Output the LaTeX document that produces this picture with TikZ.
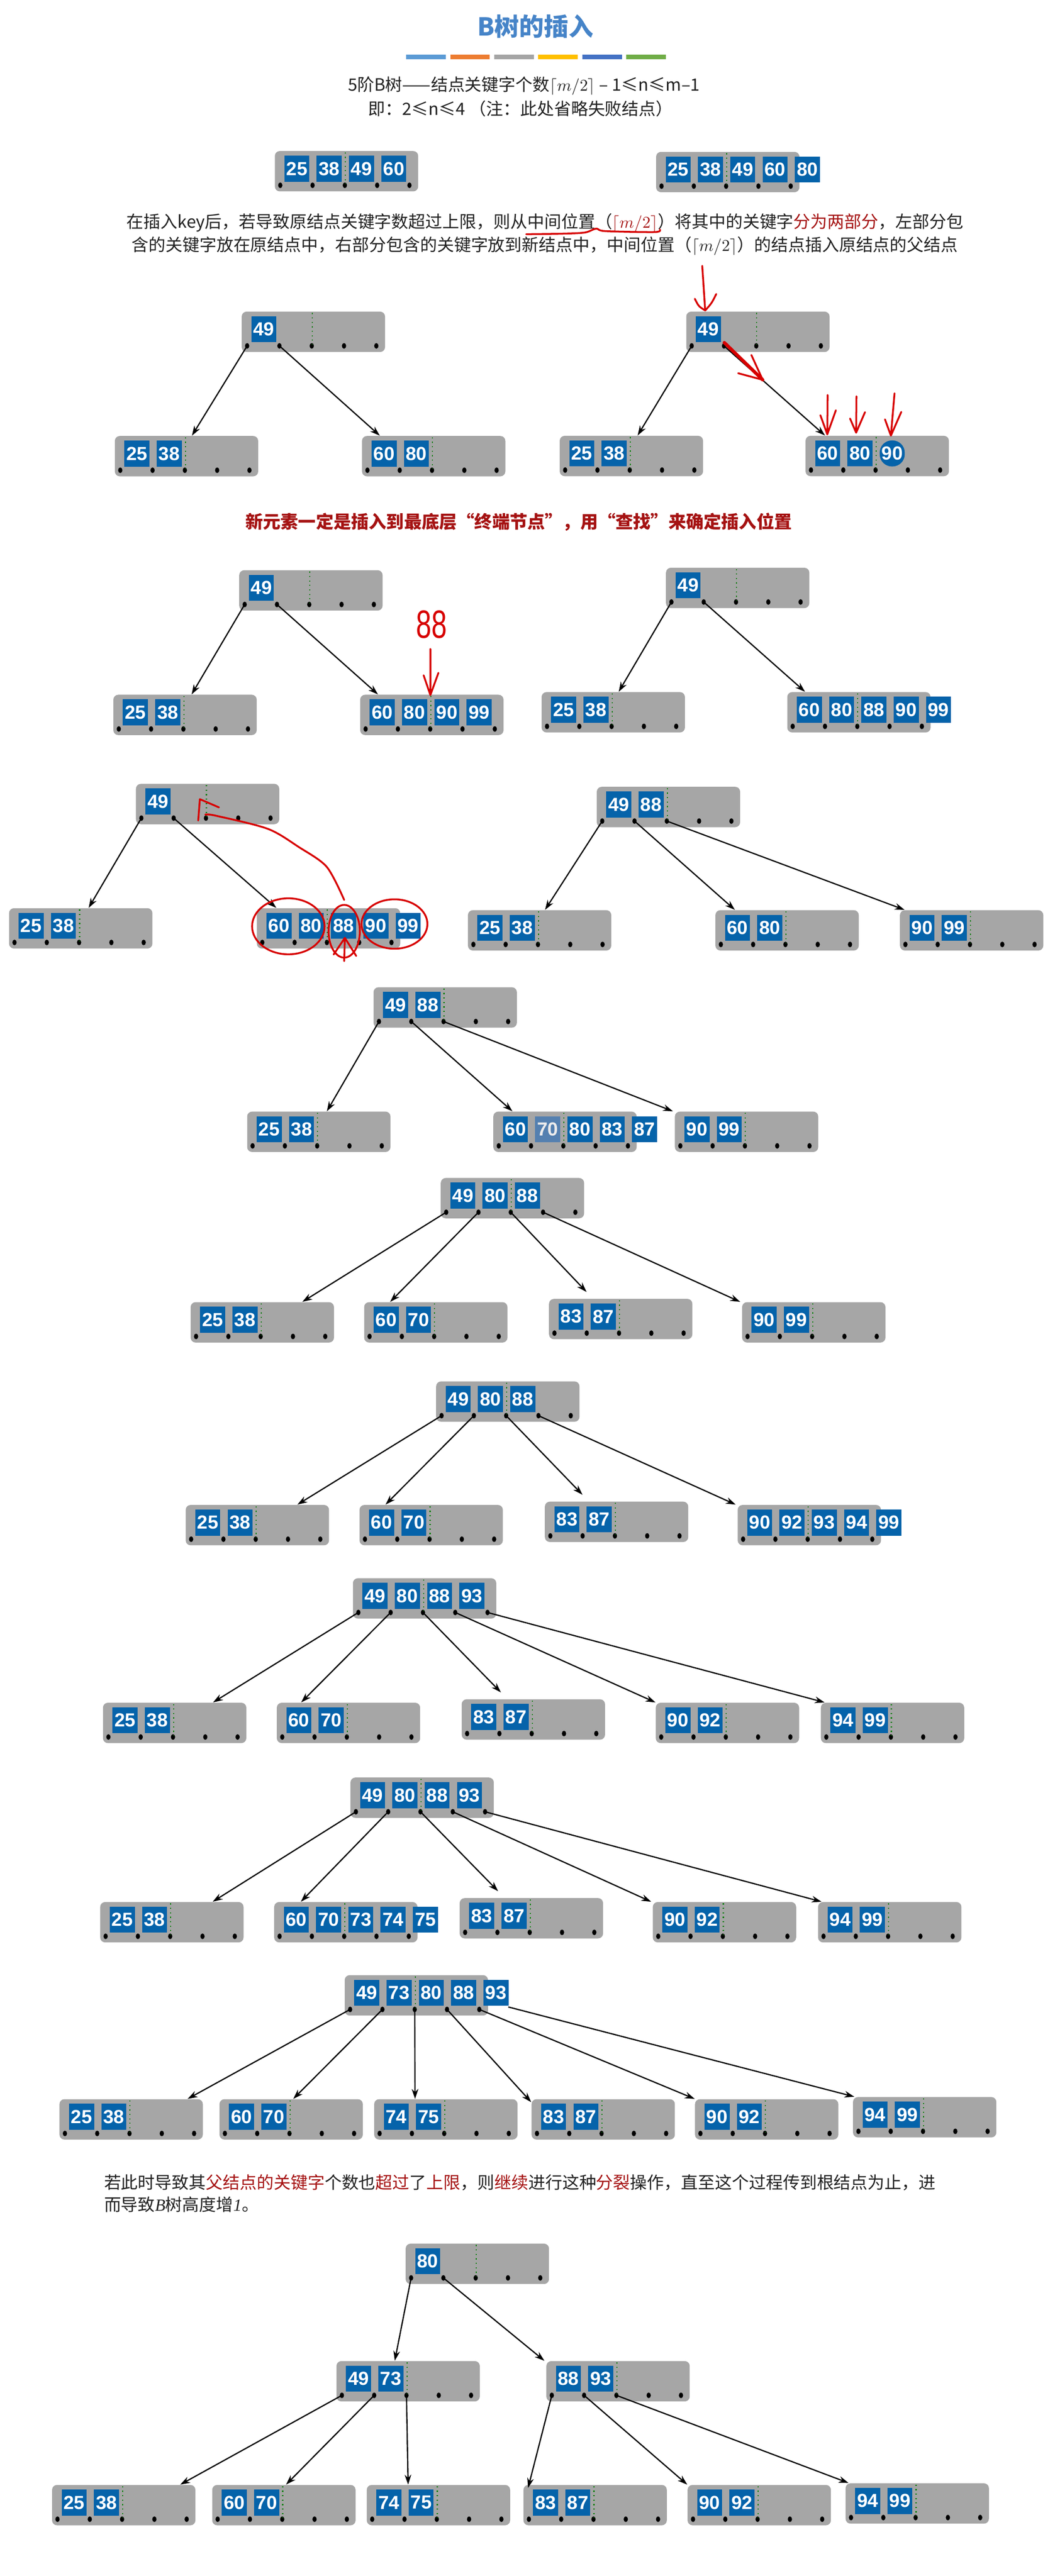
\documentclass[tikz,border=0pt]{standalone}
\usepackage{fontspec}
\setmainfont{Noto Sans CJK SC}
\newfontfamily\keyfont{Liberation Sans}
\newfontfamily\serifit{Liberation Serif}
\usetikzlibrary{arrows.meta,calc}

\definecolor{keyblue}{RGB}{5,99,170}
\definecolor{keyfade}{RGB}{84,128,176}
\definecolor{nodegray}{RGB}{166,166,166}
\definecolor{divgreen}{RGB}{0,125,0}
\definecolor{titleblue}{RGB}{70,132,200}
\definecolor{emred}{RGB}{165,18,18}
\definecolor{annored}{RGB}{215,0,0}
\definecolor{textgray}{RGB}{34,34,34}
\definecolor{barlb}{RGB}{91,155,213}
\definecolor{baror}{RGB}{237,125,49}
\definecolor{bargy}{RGB}{165,165,165}
\definecolor{baryl}{RGB}{255,192,0}
\definecolor{bardb}{RGB}{68,114,196}
\definecolor{bargn}{RGB}{112,173,71}

\tikzset{
  bnode/.style={rectangle, rounded corners=3, fill=nodegray, anchor=north west,
    minimum width=87, minimum height=24.5, inner sep=0},
  bkey/.style={rectangle, fill=keyblue, text=white, inner sep=0,
    minimum width=15.2, minimum height=15.8,
    font=\keyfont\bfseries\fontsize{11.5}{11.5}\selectfont},
  divider/.style={divgreen, dotted, line width=0.7},
  ptr/.style={->, line width=0.75},
  annot/.style={draw=annored, line width=1.1, line cap=round, line join=round},
  txt/.style={anchor=west, inner sep=0, text=textgray},
}

% one B-tree node: name, left, top, keys
\newcommand{\btnode}[4]{%
  \node[bnode] (#1) at (#2,#3) {};
  \foreach \j in {0,...,4}{
    \coordinate (#1-s\j) at ($(#1.north west)+(13.6+19.6*\j,10.9)$);
    \coordinate (#1-p\j) at ($(#1.north west)+(3.5+19.6*\j,21)$);
    \fill (#1-p\j) ellipse [x radius=1.3, y radius=1.7];
  }
  \draw[divider] ($(#1.north west)+(43,1)$) -- ($(#1.north west)+(43,20)$);
  \foreach \k [count=\i from 0] in {#4} \node[bkey] at (#1-s\i) {\k};
}

\begin{document}
\begin{tikzpicture}[x=1pt, y=-1pt, >={Stealth[length=6pt,width=4pt]},
    font=\fontsize{10.3}{12}\selectfont]
\useasboundingbox (0,0) rectangle (640,1564);
\fill[white] (0,0) rectangle (640,1564);

% title
\node[font=\bfseries\fontsize{15}{15}\selectfont, text=titleblue] (title) at (325,16) {B树的插入};
\foreach \c [count=\i from 0] in {barlb,baror,bargy,baryl,bardb,bargn}
  \fill[\c] (246.6+26.7*\i,33.1) rectangle ++(24,3);
\node[text=textgray] (sub1) at (318,52) {5阶B树——结点关键字个数$\lceil m/2\rceil$ – 1≤n≤m–1};
\node[text=textgray] (sub2) at (316,66) {即：2≤n≤4 （注：此处省略失败结点）};

% overflowing node
\btnode{a1}{166.6}{91.5}{25,38,49,60}
\btnode{a2}{398}{92}{25,38,49,60,80}

\node[txt] (t1) at (76.7,135.3) {在插入key后，若导致原结点关键字数超过上限，则从中间位置（\textcolor{emred}{$\lceil m/2\rceil$}）将其中的关键字\textcolor{emred}{分为两部分}，左部分包};
\node[txt] (t2) at (79.7,149.4) {含的关键字放在原结点中，右部分包含的关键字放到新结点中，中间位置（$\lceil m/2\rceil$）的结点插入原结点的父结点};
\draw[annot] plot[smooth] coordinates {(319.4,142.2) (339.8,141.9) (354.8,141.2) (361.8,138.8) (367.2,140.3) (397.2,140.9) (400.5,139.4)};

% split
\btnode{b1}{146.5}{189}{49}
\btnode{b2}{69.5}{264.5}{25,38}
\btnode{b3}{219.5}{264.5}{60,80}
\draw[ptr] (b1-p0) -- ($(b2.north west)+(47,0)$);
\draw[ptr] (b1-p1) -- ($(b3.north west)+(11,0)$);

\btnode{b4}{416.3}{189}{49}
\btnode{b5}{339.5}{264.4}{25,38}
\btnode{b6}{488.7}{264.4}{60,80}
\node[bkey, rounded corners=7.4] (b6k) at (b6-s2) {90};
\draw[ptr] (b4-p0) -- ($(b5.north west)+(47.5,0)$);
\draw[ptr] (b4-p1) -- ($(b6.north west)+(12,0)$);
\draw[annot] (426.2,161.4) -- (428,188.5);
\draw[annot] (421.7,181.4) .. controls (424,186) .. (428,188.5) .. controls (432,184) .. (434.7,178.5);
\draw[annot, line width=2] (439.6,208) -- (462.9,230.6);
\draw[annot] (456,215.5) -- (462.9,230.6) -- (448,226.6);
\draw[annot] (502.3,239.8) -- (502.1,263.7) (497.9,252.1) -- (502.1,263.7) -- (507.3,249.1);
\draw[annot] (519.8,240.6) -- (519.6,262.7) (515.9,254.1) -- (519.6,262.7) -- (525,250.2);
\draw[annot] (542.9,238.8) -- (540.7,264.5) (537.1,254.6) -- (540.7,264.5) -- (547,250.1);

\node[font=\bfseries\fontsize{10.7}{12}\selectfont, text=emred] (t3) at (314.8,316.8) {新元素一定是插入到最底层“终端节点”，用“查找”来确定插入位置};

% insert 88
\btnode{c1}{145}{346}{49}
\btnode{c2}{68.6}{421.6}{25,38}
\btnode{c3}{218.4}{421.6}{60,80,90,99}
\draw[ptr] (c1-p0) -- ($(c2.north west)+(47.7,0)$);
\draw[ptr] (c1-p1) -- ($(c3.north west)+(11,0)$);
\node[text=annored, font=\keyfont\fontsize{24}{24}\selectfont, inner sep=0] (n88) at (262,379) {\scalebox{0.7}[1]{88}};
\draw[annot] (261.2,394) -- (261.2,422) (257.1,410) -- (261.2,422) -- (266.1,408.5);

\btnode{c4}{404}{344.5}{49}
\btnode{c5}{328.5}{420}{25,38}
\btnode{c6}{477.6}{420}{60,80,88,90,99}
\draw[ptr] (c4-p0) -- ($(c5.north west)+(47,0)$);
\draw[ptr] (c4-p1) -- ($(c6.north west)+(11,0)$);

% move 88 up
\btnode{d1}{82.3}{475.7}{49}
\btnode{d2}{5.3}{551.2}{25,38}
\btnode{d3}{155.7}{551.2}{60,80,88,90,99}
\draw[ptr] (d1-p0) -- ($(d2.north west)+(48.5,0)$);
\draw[ptr] (d1-p1) -- ($(d3.north west)+(12,0)$);
\draw[annot] (175,562.4) ellipse [x radius=22, y radius=17];
\draw[annot] (208.9,565.4) ellipse [x radius=9.5, y radius=16];
\draw[annot] (239.4,561) ellipse [x radius=20, y radius=15];
\draw[annot] plot[smooth] coordinates {(208.9,546.4) (198.3,526.3) (181.4,514.3) (162.5,503.2) (130.8,495.2) (124.6,494.6)};
\draw[annot] (120.3,498.2) -- (121.3,485.2) -- (132.9,490.2);
\draw[annot] (208.9,583.5) -- (209.3,569.4) (202.5,579.5) -- (209.3,569.4) -- (216.2,580.4);

\btnode{d4}{362}{477.5}{49,88}
\btnode{d5}{283.8}{552.4}{25,38}
\btnode{d6}{434}{552.4}{60,80}
\btnode{d7}{546}{552.4}{90,99}
\draw[ptr] (d4-p0) -- ($(d5.north west)+(47,0)$);
\draw[ptr] (d4-p1) -- ($(d6.north west)+(12,0)$);
\draw[ptr] (d4-p2) -- ($(d7.north west)+(3,0)$);

% insert 70, 83, 87
\btnode{e1}{226.5}{599.2}{49,88}
\btnode{e2}{149.8}{674.7}{25,38}
\btnode{e3}{299.2}{674.7}{60}
\node[bkey, fill=keyfade, text=white!85!gray] (e3k) at (e3-s1) {70};
\foreach \k [count=\i from 2] in {80,83,87} \node[bkey] at (e3-s\i) {\k};
\btnode{e4}{409.4}{674.7}{90,99}
\draw[ptr] (e1-p0) -- ($(e2.north west)+(48.6,0)$);
\draw[ptr] (e1-p1) -- ($(e3.north west)+(11.8,0)$);
\draw[ptr] (e1-p2) -- ($(e4.north west)+(-1,0)$);

\btnode{f1}{267.3}{715}{49,80,88}
\btnode{f2}{115.5}{790.4}{25,38}
\btnode{f3}{220.8}{790.4}{60,70}
\btnode{f4}{333}{788.4}{83,87}
\btnode{f5}{450.2}{790.4}{90,99}
\draw[ptr] (f1-p0) -- ($(f2.north west)+(68,0)$);
\draw[ptr] (f1-p1) -- ($(f3.north west)+(16,0)$);
\draw[ptr] (f1-p2) -- ($(f4.north west)+(23,-4)$);
\draw[ptr] (f1-p3) -- ($(f5.north west)+(-1,0)$);

% insert 92, 93, 94
\btnode{g1}{264.5}{838.5}{49,80,88}
\btnode{g2}{112.5}{913.5}{25,38}
\btnode{g3}{218}{913.5}{60,70}
\btnode{g4}{330.5}{911.5}{83,87}
\btnode{g5}{447.5}{913.5}{90,92,93,94,99}
\draw[ptr] (g1-p0) -- ($(g2.north west)+(68,0)$);
\draw[ptr] (g1-p1) -- ($(g3.north west)+(16,0)$);
\draw[ptr] (g1-p2) -- ($(g4.north west)+(23,-4)$);
\draw[ptr] (g1-p3) -- ($(g5.north west)+(-1,0)$);

\btnode{h1}{214}{958}{49,80,88,93}
\btnode{h2}{62.3}{1033.6}{25,38}
\btnode{h3}{167.8}{1033.6}{60,70}
\btnode{h4}{280}{1031.5}{83,87}
\btnode{h5}{397.8}{1033.6}{90,92}
\btnode{h6}{498}{1033.6}{94,99}
\draw[ptr] (h1-p0) -- ($(h2.north west)+(67,0)$);
\draw[ptr] (h1-p1) -- ($(h3.north west)+(15,0)$);
\draw[ptr] (h1-p2) -- ($(h4.north west)+(24,-4)$);
\draw[ptr] (h1-p3) -- ($(h5.north west)+(0,0)$);
\draw[ptr] (h1-p4) -- ($(h6.north west)+(2.5,0)$);

% insert 73, 74, 75
\btnode{i1}{212.5}{1079}{49,80,88,93}
\btnode{i2}{60.6}{1154.6}{25,38}
\btnode{i3}{166.2}{1154.6}{60,70,73,74,75}
\btnode{i4}{278.8}{1152.2}{83,87}
\btnode{i5}{396}{1154.6}{90,92}
\btnode{i6}{496.3}{1154.6}{94,99}
\draw[ptr] (i1-p0) -- ($(i2.north west)+(68.5,0)$);
\draw[ptr] (i1-p1) -- ($(i3.north west)+(16.4,0)$);
\draw[ptr] (i1-p2) -- ($(i4.north west)+(23.5,-4)$);
\draw[ptr] (i1-p3) -- ($(i5.north west)+(-0.8,0)$);
\draw[ptr] (i1-p4) -- ($(i6.north west)+(2.3,0)$);

\btnode{j1}{209}{1199}{49,73,80,88,93}
\coordinate (j1-p5) at ($(j1.north west)+(99.5,19.5)$);
\btnode{j2}{35.9}{1274.3}{25,38}
\btnode{j3}{133}{1274.3}{60,70}
\btnode{j4}{226.9}{1274.3}{74,75}
\btnode{j5}{322.4}{1274.3}{83,87}
\btnode{j6}{421.6}{1274.3}{90,92}
\btnode{j7}{517.5}{1273}{94,99}
\draw[ptr] (j1-p0) -- ($(j2.north west)+(78,0)$);
\draw[ptr] (j1-p1) -- ($(j3.north west)+(45,0)$);
\draw[ptr] (j1-p2) -- ($(j4.north west)+(25,0)$);
\draw[ptr] (j1-p3) -- ($(j5.north west)+(0,2)$);
\draw[ptr] (j1-p4) -- ($(j6.north west)+(0,0)$);
\draw[ptr] (j1-p5) -- ($(j7.north west)+(1,0)$);

\node[txt] (t4) at (63,1325) {若此时导致其\textcolor{emred}{父结点的关键字}个数也\textcolor{emred}{超过}了\textcolor{emred}{上限}，则\textcolor{emred}{继续}进行这种\textcolor{emred}{分裂}操作，直至这个过程传到根结点为止，进};
\node[txt] (t5) at (63,1338.5) {而导致{\serifit\itshape B}树高度增{\serifit\itshape 1}。};

% root split
\btnode{k1}{246}{1362}{80}
\btnode{k2}{204}{1433.3}{49,73}
\btnode{k3}{331.4}{1433.3}{88,93}
\draw[ptr] (k1-p0) -- ($(k2.north west)+(35.6,0)$);
\draw[ptr] (k1-p1) -- ($(k3.north west)+(-1,0)$);
\btnode{k4}{31.4}{1508.5}{25,38}
\btnode{k5}{128.6}{1508.5}{60,70}
\btnode{k6}{222.4}{1508.5}{74,75}
\btnode{k7}{317.5}{1508.5}{83,87}
\btnode{k8}{417.1}{1508.5}{90,92}
\btnode{k9}{513}{1507.5}{94,99}
\draw[ptr] (k2-p0) -- ($(k4.north west)+(78,0)$);
\draw[ptr] (k2-p1) -- ($(k5.north west)+(45,0)$);
\draw[ptr] (k2-p2) -- ($(k6.north west)+(25.3,0)$);
\draw[ptr] (k3-p0) -- ($(k7.north west)+(3,2)$);
\draw[ptr] (k3-p1) -- ($(k8.north west)+(0,0)$);
\draw[ptr] (k3-p2) -- ($(k9.north west)+(2,0)$);
\end{tikzpicture}
\end{document}
